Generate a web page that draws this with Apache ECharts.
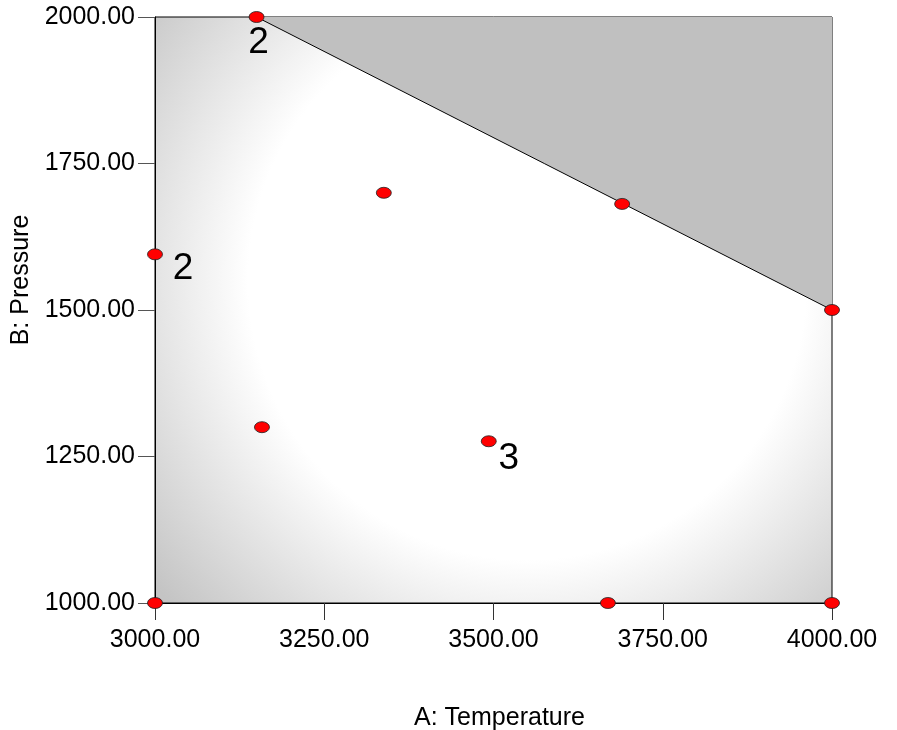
<!DOCTYPE html>
<html>
<head>
<meta charset="utf-8">
<title>Design space</title>
<script src="https://cdn.jsdelivr.net/npm/echarts@6/dist/echarts.min.js"></script>
<style>
  html, body { margin: 0; padding: 0; background: #fff; }
  #main { width: 897px; height: 730px; }
</style>
</head>
<body>
<div id="main"></div>
<script>
// design points (A: Temperature, B: Pressure) and replicate count
var runA = [3150, 3338, 3690, 4000, 3000, 3158, 3493, 3000, 3669, 4000]
var runB = [2000, 1700, 1681, 1500, 1595, 1300, 1276, 1000, 1000, 1000]
var runCount = [2, 1, 1, 1, 2, 1, 3, 1, 1, 1]

// constraint edge that cuts off the upper right corner
var edgeA = [3150, 4000]
var edgeB = [2000, 1500]

// axis ticks
var ticksA = [3000, 3250, 3500, 3750, 4000]
var ticksB = [1000, 1250, 1500, 1750, 2000]

// where the replicate number sits next to its point (style only)
var countOffset = { 0: [2, 26], 4: [28, 14], 6: [20, 18] }

var font = 'Liberation Sans, Arial, sans-serif'

var myChart = echarts.init(document.getElementById('main'))

var points = runA.map(function (a, i) {
  var item = { value: [a, runB[i], runCount[i]] }
  if (runCount[i] > 1) {
    item.label = {
      show: true,
      position: 'inside',
      offset: countOffset[i] || [20, 16],
      formatter: String(runCount[i]),
      color: '#000',
      fontSize: 37,
      fontFamily: font
    }
  }
  return item
})

var option = {
  animation: false,
  backgroundColor: '#fff',
  textStyle: { fontFamily: font },
  grid: {
    left: 155,
    right: 65,
    top: 17,
    bottom: 127,
    outerBoundsMode: 'none',
    show: true,
    borderColor: '#000',
    borderWidth: 1,
    // fading shade of the design space
    backgroundColor: {
      type: 'radial',
      x: 0.55,
      y: 0.45,
      r: 0.82,
      colorStops: [
        { offset: 0, color: '#ffffff' },
        { offset: 0.58, color: '#ffffff' },
        { offset: 1, color: '#c4c4c4' }
      ]
    }
  },
  xAxis: {
    type: 'value',
    min: ticksA[0],
    max: ticksA[ticksA.length - 1],
    interval: 250,
    name: 'A: Temperature',
    nameLocation: 'middle',
    nameGap: 103,
    nameTextStyle: { color: '#000', fontSize: 25, fontFamily: font, padding: [0, 0, 0, 12] },
    axisLine: { show: true, lineStyle: { color: '#000', width: 1 } },
    axisTick: { show: true, inside: false, length: 17, lineStyle: { color: '#333' } },
    axisLabel: {
      margin: 25,
      color: '#000',
      fontSize: 25,
      fontFamily: font,
      formatter: function (v) { return v.toFixed(2) }
    },
    splitLine: { show: false }
  },
  yAxis: {
    type: 'value',
    min: ticksB[0],
    max: ticksB[ticksB.length - 1],
    interval: 250,
    name: 'B: Pressure',
    nameLocation: 'middle',
    nameGap: 107,
    nameTextStyle: { color: '#000', fontSize: 25, fontFamily: font, padding: [0, 0, 0, 60] },
    axisLine: { show: true, lineStyle: { color: '#000', width: 1 } },
    axisTick: { show: true, inside: false, length: 17, lineStyle: { color: '#555' } },
    axisLabel: {
      margin: 20,
      color: '#000',
      fontSize: 25,
      fontFamily: font,
      formatter: function (v) { return v.toFixed(2) }
    },
    splitLine: { show: false }
  },
  series: [
    {
      name: 'constraint',
      type: 'line',
      data: edgeA.map(function (a, i) { return [a, edgeB[i]] }),
      symbol: 'none',
      lineStyle: { color: '#000', width: 1 },
      areaStyle: { origin: 'end', color: '#c0c0c0', opacity: 1 },
      z: 2,
      silent: true
    },
    {
      name: 'runs',
      type: 'scatter',
      data: points,
      symbol: 'circle',
      symbolSize: [15, 11],
      itemStyle: { color: '#ff0000', borderColor: '#222', borderWidth: 0.8, opacity: 1 },
      z: 5
    }
  ]
}

myChart.setOption(option)
</script>
</body>
</html>
